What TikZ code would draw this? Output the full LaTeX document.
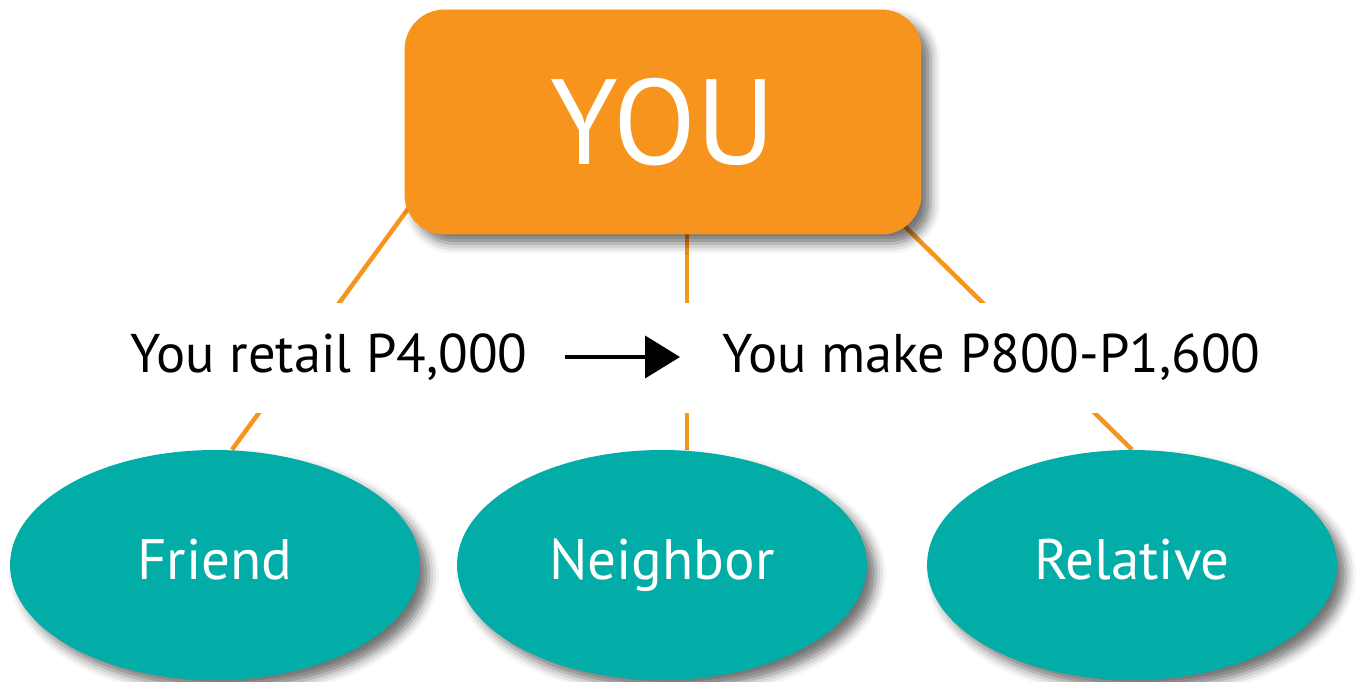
\documentclass[tikz,border=0pt]{standalone}
\usepackage{fontspec}
\setmainfont{PT Sans}
\usetikzlibrary{shapes.geometric,shadows.blur,arrows.meta,backgrounds}

\definecolor{youorange}{RGB}{247,148,30}
\definecolor{contactteal}{RGB}{2,173,168}

\tikzset{
  soft shadow/.style={blur shadow={shadow xshift=0.18cm, shadow yshift=-0.18cm,
    shadow blur radius=0.2cm, shadow opacity=55}},
  youbox/.style={rectangle, rounded corners=0.8cm, fill=youorange, text=white,
    minimum width=10.34cm, minimum height=4.5cm, inner sep=0pt,
    font=\fontsize{69}{80}\selectfont, text height=48pt, text depth=0pt, soft shadow},
  contact/.style={ellipse, fill=contactteal, text=white,
    minimum width=8.2cm, minimum height=4.6cm, inner sep=0pt,
    font=\fontsize{32.5}{40}\selectfont, text height=23pt, text depth=7pt, soft shadow},
  money/.style={inner sep=0pt, font=\fontsize{31}{38}\selectfont},
  link/.style={draw=youorange, line width=0.09cm},
  flow/.style={line width=0.08cm, -{Triangle[length=0.7cm, width=0.84cm]}}
}

\begin{document}
\begin{tikzpicture}[x=0.02cm, y=-0.02cm]
  \useasboundingbox (0,0) rectangle (1356,682);

  \node[youbox] (you) at (663,122) {YOU};

  \node[contact] (friend)   at (215,565)  {Friend};
  \node[contact] (neighbor) at (662,565)  {Neighbor};
  \node[contact] (relative) at (1132,565) {Relative};

  \node[money, anchor=base east] (retail) at (528,372) {You retail P4,000};
  \node[money, anchor=base west] (make)   at (722,372) {You make P800-P1,600};

  \draw[flow, shorten <=0.74cm, shorten >=0.84cm]
    ([yshift=0.3cm]retail.base east) -- ([yshift=0.3cm]make.base west);

  % links run behind the boxes and break at the text row
  \begin{scope}[on background layer]
    \draw[link] ([shift={(25,-55)}]you.south west) -- ([shift={(17,0)}]friend.north);
    \draw[link] ([shift={(24,-20)}]you.south) -- ([shift={(25,0)}]neighbor.north);
    \draw[link] ([shift={(-44,-35)}]you.south east) -- (relative.north);
    \fill[white] (0,303) rectangle (1356,413);
  \end{scope}
\end{tikzpicture}
\end{document}
